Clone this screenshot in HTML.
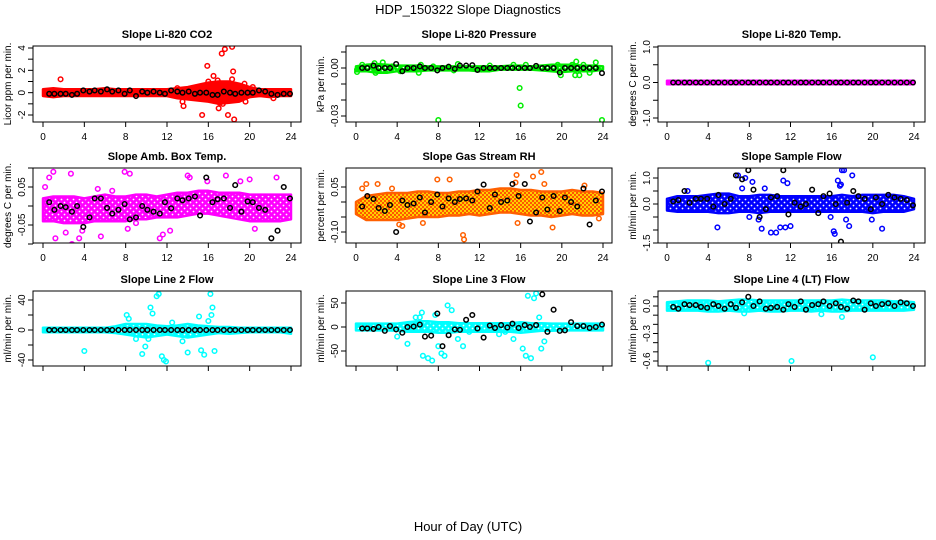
<!DOCTYPE html>
<html><head><meta charset="utf-8"><style>
body{margin:0;background:#fff;}
svg{display:block;font-family:"Liberation Sans",sans-serif;}
</style></head><body>
<svg id="chart" width="936" height="540" viewBox="0 0 936 540">
<defs id="defs">
<pattern id="rhpat" width="4" height="4" patternUnits="userSpaceOnUse"><rect width="4" height="4" fill="#ffd000"/><circle cx="1" cy="1" r="1" fill="#ff3000"/><circle cx="3" cy="3" r="1" fill="#ff3000"/></pattern>
</defs>
<text x="468" y="14" text-anchor="middle" font-size="13">HDP_150322  Slope Diagnostics</text>
<text x="468" y="531" text-anchor="middle" font-size="13">Hour of Day (UTC)</text>
<g id="panels"></g>
</svg>
<script>
const xTicks=[0,4,8,12,16,20,24];
const bandHours=[0,1,2,3,4,5,6,7,8,9,10,11,12,13,14,15,16,17,18,19,20,21,22,23,24];
const blackHours=[0.6,1.1,1.7,2.2,2.8,3.3,3.9,4.5,5.0,5.6,6.2,6.7,7.3,7.9,8.4,9.0,9.6,10.1,10.7,11.3,11.8,12.4,13.0,13.5,14.1,14.7,15.2,15.8,16.4,16.9,17.5,18.1,18.6,19.2,19.8,20.3,20.9,21.5,22.1,22.7,23.3,23.9];

const co2Lo=[-0.3,-0.4,-0.3,-0.3,-0.3,-0.3,-0.3,-0.3,-0.3,-0.3,-0.3,-0.3,-0.3,-0.5,-0.6,-0.7,-0.8,-1.0,-0.9,-0.8,-0.4,-0.3,-0.4,-0.3,-0.3];
const co2Hi=[0.3,0.4,0.3,0.3,0.3,0.3,0.4,0.3,0.3,0.3,0.3,0.3,0.3,0.4,0.5,0.7,0.9,1.0,1.0,0.8,0.5,0.3,0.3,0.3,0.3];
const co2OutH=[1.7,13.5,13.6,15.4,15.9,16.0,16.5,17.0,17.3,17.6,17.9,18.3,18.4,18.5,18.3,16.9,19.5,19.6,20.3,15.2,13.0,22.3,17.1,17.4];
const co2OutV=[1.2,-0.8,-1.2,-2.0,2.4,1.0,1.5,-1.4,3.5,3.9,-2.0,4.1,1.9,-2.4,1.2,1.1,0.8,-0.8,0.5,0.5,0.4,-0.5,-0.9,-1.0];
const co2Black=[-0.1,-0.1,-0.1,-0.1,-0.2,-0.1,0.2,0.1,0.2,0.1,0.3,0.1,0.2,-0.1,0.2,-0.3,0.1,0.0,0.1,0.0,-0.1,0.2,0.1,0.0,0.1,-0.1,0.0,0.0,-0.2,-0.2,0.1,0.0,-0.1,0.0,0.0,0.0,0.2,0.1,-0.1,-0.2,-0.1,-0.1];

const presLo=[-0.002,-0.002,-0.003,-0.003,-0.002,-0.002,-0.002,-0.0015,-0.0015,-0.0015,-0.0015,-0.0015,-0.002,-0.002,-0.001,-0.001,-0.001,-0.001,-0.0015,-0.002,-0.0025,-0.002,-0.002,-0.002,-0.001];
const presHi=[0.001,0.002,0.0025,0.002,0.0015,0.0015,0.0015,0.001,0.001,0.001,0.001,0.001,0.001,0.001,0.001,0.0015,0.0015,0.001,0.0015,0.002,0.002,0.002,0.0015,0.0015,0.001];
const presOutH=[0.1,0.1,0.6,1.8,1.9,2.6,3.5,4.3,6.1,6.3,7.5,8.0,9.5,9.9,12.2,13.0,15.3,15.9,16.0,16.5,19.9,19.6,21.0,21.3,21.4,21.7,22.7,23.3,23.9,22.1];
const presOutV=[-0.001,-0.0025,0.002,0.003,-0.003,0.0035,0.001,-0.002,-0.003,0.002,0.001,-0.0325,-0.0015,0.0025,-0.001,0.0015,0.002,-0.0125,-0.0235,0.002,-0.0045,0.002,0.002,-0.0045,0.004,-0.0045,-0.003,0.0035,-0.0325,0.002];
const presBlack=[0,0,0.0015,0,0,0,0.0025,-0.002,0,0,0.001,0,0,-0.0015,0,0.0008,-0.0005,0.0015,0.0015,0.0018,-0.0012,0,0,0,0,0,0,0,0,0,0.0013,0,0,0,-0.0028,0,0,0,0,0,0,-0.0032];

const tempLo=[-0.05,-0.05,-0.05,-0.05,-0.05,-0.05,-0.05,-0.05,-0.05,-0.05,-0.05,-0.05,-0.05,-0.05,-0.05,-0.05,-0.05,-0.05,-0.05,-0.05,-0.05,-0.05,-0.05,-0.05,-0.05];
const tempHi=[0.05,0.05,0.05,0.05,0.05,0.05,0.05,0.05,0.05,0.05,0.05,0.05,0.05,0.05,0.05,0.05,0.05,0.05,0.05,0.05,0.05,0.05,0.05,0.05,0.05];
const tempOutH=[];
const tempOutV=[];
const tempBlack=[0,0,0,0,0,0,0,0,0,0,0,0,0,0,0,0,0,0,0,0,0,0,0,0,0,0,0,0,0,0,0,0,0,0,0,0,0,0,0,0,0,0];

const ambLo=[-0.04,-0.04,-0.045,-0.045,-0.045,-0.04,-0.04,-0.04,-0.04,-0.035,-0.035,-0.03,-0.03,-0.03,-0.025,-0.02,-0.02,-0.025,-0.03,-0.035,-0.04,-0.04,-0.04,-0.04,-0.035];
const ambHi=[0.02,0.025,0.025,0.025,0.02,0.025,0.03,0.025,0.025,0.03,0.03,0.025,0.03,0.035,0.035,0.04,0.04,0.035,0.035,0.035,0.03,0.03,0.03,0.03,0.03];
const ambOutH=[0.2,0.6,1.0,1.2,1.5,2.2,2.7,2.8,3.5,3.8,5.3,5.6,7.9,8.2,8.4,9.0,11.3,11.6,12.3,14.0,14.2,15.0,17.4,17.7,19.1,20.0,20.5,22.6,15.9,6.7];
const ambOutV=[0.05,0.075,0.09,-0.085,-0.035,-0.07,0.085,-0.1,-0.085,-0.065,0.045,-0.08,0.09,-0.06,0.085,-0.045,-0.085,-0.075,-0.065,0.08,0.075,-0.11,0.11,0.08,0.065,0.07,-0.06,0.075,0.065,0.04];
const ambBlack=[0.01,-0.01,0.0,-0.003,-0.015,0.0,-0.055,-0.03,0.02,0.02,-0.005,-0.02,-0.01,0.005,-0.035,-0.03,0.0,-0.01,-0.015,-0.02,0.01,-0.006,0.02,0.015,0.02,0.025,-0.025,0.075,0.01,0.018,0.02,-0.005,0.055,-0.015,0.012,0.01,-0.005,-0.01,-0.085,-0.065,0.05,0.02];

const rhLo=[-0.04,-0.06,-0.06,-0.06,-0.06,-0.055,-0.05,-0.05,-0.05,-0.045,-0.045,-0.04,-0.045,-0.04,-0.035,-0.035,-0.04,-0.045,-0.045,-0.05,-0.045,-0.04,-0.045,-0.045,-0.04];
const rhHi=[0.0,0.02,0.025,0.03,0.03,0.03,0.035,0.035,0.03,0.03,0.035,0.035,0.04,0.04,0.045,0.045,0.04,0.04,0.035,0.035,0.035,0.04,0.035,0.035,0.03];
const rhOutH=[0.6,1.0,3.5,4.2,4.5,6.5,7.9,9.1,10.4,10.5,15.5,15.6,15.7,17.2,18.0,18.3,19.1,22.2,23.6,2.1];
const rhOutV=[0.045,0.06,0.045,-0.075,-0.08,-0.07,0.075,0.075,-0.11,-0.125,0.065,0.09,-0.07,0.085,0.1,0.06,-0.085,0.055,-0.055,0.06];
const rhBlack=[-0.015,0.02,0.01,-0.02,-0.03,-0.01,-0.1,0.005,-0.01,-0.005,0.015,-0.035,0.0,0.025,-0.015,0.012,0.0,0.01,0.012,0.005,0.035,0.058,-0.02,0.025,0.0,0.005,0.06,0.02,0.06,-0.065,-0.035,0.015,-0.025,0.02,-0.03,0.015,0.0,-0.015,0.045,-0.075,0.005,0.035];

const flowLo=[-0.25,-0.3,-0.3,-0.3,-0.3,-0.35,-0.35,-0.3,-0.3,-0.35,-0.3,-0.3,-0.3,-0.3,-0.3,-0.3,-0.3,-0.3,-0.3,-0.3,-0.35,-0.3,-0.3,-0.3,-0.2];
const flowHi=[0.2,0.3,0.3,0.3,0.35,0.4,0.4,0.3,0.3,0.35,0.35,0.3,0.3,0.3,0.3,0.3,0.3,0.35,0.3,0.35,0.35,0.35,0.35,0.3,0.2];
const flowOutH=[2.0,4.9,6.9,7.3,7.6,8.0,8.3,8.9,9.2,9.5,10.1,10.6,11.0,11.3,11.5,11.7,12.0,15.9,16.2,16.3,16.6,16.8,17.0,17.2,17.4,17.7,18.0,19.9,20.9,16.9];
const flowOutV=[0.5,-0.9,1.1,0.6,1.0,-0.5,0.85,-0.6,-0.95,0.6,-1.1,-1.1,-0.9,0.9,-0.9,0.8,-0.85,-0.5,-1.05,-1.15,0.9,0.7,1.3,1.3,-0.6,-0.85,1.1,-0.6,-0.95,0.75];
const flowBlack=[0.1,0.15,0.5,0.05,0.2,0.2,0.2,-0.1,0.35,0.0,0.2,1.1,0.95,1.3,0.55,-0.5,-0.2,0.25,0.3,1.3,-0.4,0.05,-0.1,0.0,0.55,-0.35,0.3,0.4,0.0,-1.45,0.05,0.5,0.3,0.2,-0.2,0.25,0.0,0.35,0.25,0.2,0.15,-0.05];

const l2Lo=[-3,-3,-3,-3,-3,-3,-3,-4,-6,-8,-10,-8,-6,-8,-10,-8,-6,-4,-5,-4,-3,-3,-3,-3,-5];
const l2Hi=[3,3,3,3,3,3,3,5,8,8,8,6,5,6,8,6,5,4,4,3,3,3,3,3,3];
const l2OutH=[4.0,8.1,8.3,9.6,9.9,10.2,10.4,10.6,11.0,11.2,11.5,11.7,11.9,14.0,15.1,15.3,15.6,16.0,16.2,16.4,16.6,16.3,9.0,12.5,13.5];
const l2OutV=[-28,20,15,-32,-22,-12,30,22,45,48,-35,-40,-42,-30,18,-27,-33,12,48,30,-28,20,-12,10,-15];
const l2Black=[0,0,0,0,0,0,0,0,0,0,0,0,0,0,0,0,0,0,0,0,0,0,0,0,0,0,0,0,0,0,0,0,0,0,0,0,0,0,0,0,0,0];

const l3Lo=[-7,-7,-7,-7,-8,-10,-10,-10,-12,-12,-10,-10,-10,-10,-10,-10,-12,-10,-8,-8,-7,-7,-7,-7,-7];
const l3Hi=[7,7,7,7,7,10,12,12,10,10,8,8,8,8,8,8,10,8,8,7,7,7,7,7,7];
const l3OutH=[4.0,5.0,5.8,6.2,6.5,7.0,7.4,7.7,8.0,8.3,8.6,8.9,9.3,9.9,10.4,11.0,15.3,16.2,16.5,16.7,17.0,17.3,17.5,17.8,18.0,18.3,13.9,14.5,6.4];
const l3OutV=[-20,-35,20,20,-60,-65,-70,25,-40,-55,-60,45,35,-25,-40,-10,-25,-45,-60,65,-65,60,70,20,-45,-30,-15,-10,30];
const l3Black=[-3,-3,-4,0,-8,2,-5,-12,0,1,5,-20,-18,28,-40,-17,-5,-6,15,25,-3,-22,3,-2,4,-1,7,-2,4,0,4,68,-10,36,-8,-7,10,2,2,-2,0,5];

const ltLo=[-0.05,-0.05,-0.05,-0.05,-0.06,-0.06,-0.05,-0.06,-0.06,-0.05,-0.06,-0.06,-0.05,-0.05,-0.06,-0.05,-0.06,-0.06,-0.05,-0.05,-0.05,-0.05,-0.05,-0.05,-0.04];
const ltHi=[0.04,0.05,0.06,0.06,0.06,0.05,0.06,0.07,0.07,0.06,0.06,0.06,0.06,0.06,0.06,0.06,0.06,0.07,0.06,0.06,0.06,0.06,0.05,0.05,0.04];
const ltOutH=[4.0,12.1,20.0,17.0,7.5,15.0];
const ltOutV=[-0.62,-0.6,-0.56,-0.12,-0.08,-0.09];
const ltBlack=[-0.01,-0.03,0.02,0.01,0.01,-0.01,-0.02,0.02,0.0,-0.03,0.02,-0.02,0.04,0.1,0.0,0.05,-0.03,-0.02,-0.01,-0.04,0.02,-0.01,0.05,-0.04,0.01,0.02,0.05,0.0,0.03,-0.01,-0.03,0.06,0.05,-0.04,0.03,0.0,0.02,0.03,0.0,0.04,0.03,0.0];

const NS='http://www.w3.org/2000/svg';
const cols=[{bx0:33,bx1:301,h0:43,h24:291},{bx0:346,bx1:612,h0:356,h24:603},{bx0:658,bx1:925,h0:667,h24:914}];
const rows=[{by0:46,by1:122,lab:true},{by0:168,by1:243,lab:true},{by0:291,by1:366,lab:false}];
const panels=[
 {name:'co2',title:'Slope Li-820 CO2',ylab:'Licor ppm per min.',c:0,r:0,ya:[4,48],yb:[-2,115],ticks:[4,3,2,1,0,-1,-2],labs:['4','2','0','-2'],labv:[4,2,0,-2],color:'#ff0000',tex:false,lo:co2Lo,hi:co2Hi,oh:co2OutH,ov:co2OutV,bk:co2Black},
 {name:'pressure',title:'Slope Li-820 Pressure',ylab:'kPa per min.',c:1,r:0,ya:[0,68],yb:[-0.03,116],ticks:[0.01,0,-0.01,-0.02,-0.03],labs:['0.00','-0.03'],labv:[0,-0.03],color:'#00ee00',tex:true,lo:presLo,hi:presHi,oh:presOutH,ov:presOutV,bk:presBlack},
 {name:'temp',title:'Slope Li-820 Temp.',ylab:'degrees C per min.',c:2,r:0,ya:[1,47],yb:[-1,118],ticks:[1,0.5,0,-0.5,-1],labs:['1.0','0.0','-1.0'],labv:[1,0,-1],color:'#ff00ff',tex:false,lo:tempLo,hi:tempHi,oh:tempOutH,ov:tempOutV,bk:tempBlack},
 {name:'amb-box-temp',title:'Slope Amb. Box Temp.',ylab:'degrees C per min.',c:0,r:1,ya:[0.05,187],yb:[-0.05,225],ticks:[0.1,0.05,0,-0.05,-0.1],labs:['0.05','-0.05'],labv:[0.05,-0.05],color:'#ff00ff',tex:true,lo:ambLo,hi:ambHi,oh:ambOutH,ov:ambOutV,bk:ambBlack},
 {name:'gas-stream-rh',title:'Slope Gas Stream RH',ylab:'percent per min.',c:1,r:1,ya:[0.05,187],yb:[-0.10,232],ticks:[0.05,0,-0.05,-0.1],labs:['0.05','-0.10'],labv:[0.05,-0.1],color:'#ff6000',fill:'url(#rhpat)',tex:false,lo:rhLo,hi:rhHi,oh:rhOutH,ov:rhOutV,bk:rhBlack},
 {name:'sample-flow',title:'Slope Sample Flow',ylab:'ml/min per min.',c:2,r:1,ya:[1,178],yb:[0,204],ticks:[1,0.5,0,-0.5,-1,-1.5],labs:['1.0','0.0','-1.5'],labv:[1,0,-1.5],color:'#0000ff',tex:true,lo:flowLo,hi:flowHi,oh:flowOutH,ov:flowOutV,bk:flowBlack},
 {name:'line2-flow',title:'Slope Line 2 Flow',ylab:'ml/min per min.',c:0,r:2,ya:[40,300],yb:[-40,360],ticks:[40,20,0,-20,-40],labs:['40','0','-40'],labv:[40,0,-40],color:'#00ffff',tex:true,lo:l2Lo,hi:l2Hi,oh:l2OutH,ov:l2OutV,bk:l2Black},
 {name:'line3-flow',title:'Slope Line 3 Flow',ylab:'ml/min per min.',c:1,r:2,ya:[50,303],yb:[-50,351],ticks:[50,0,-50],labs:['50','0','-50'],labv:[50,0,-50],color:'#00ffff',tex:true,lo:l3Lo,hi:l3Hi,oh:l3OutH,ov:l3OutV,bk:l3Black},
 {name:'line4-flow',title:'Slope Line 4 (LT) Flow',ylab:'ml/min per min.',c:2,r:2,ya:[0,306],yb:[-0.6,361],ticks:[0.1,0,-0.1,-0.2,-0.3,-0.4,-0.5,-0.6],labs:['0.0','-0.3','-0.6'],labv:[0,-0.3,-0.6],color:'#00ffff',tex:true,lo:ltLo,hi:ltHi,oh:ltOutH,ov:ltOutV,bk:ltBlack}
];
function mk(tag,attrs,parent){const e=document.createElementNS(NS,tag);for(const k in attrs)e.setAttribute(k,attrs[k]);parent.appendChild(e);return e;}
const defs=document.getElementById('defs');
const root=document.getElementById('panels');
panels.forEach((p,pi)=>{
 const C=cols[p.c],R=rows[p.r];
 const xs=h=>C.h0+(h/24)*(C.h24-C.h0);
 const ys=v=>p.ya[1]+(v-p.ya[0])*(p.yb[1]-p.ya[1])/(p.yb[0]-p.ya[0]);
 let fill=p.fill||p.color;
 if(p.tex){
  const pat=mk('pattern',{id:'tex'+pi,width:6,height:6,patternUnits:'userSpaceOnUse'},defs);
  mk('rect',{width:6,height:6,fill:p.color},pat);
  mk('circle',{cx:1.5,cy:1.5,r:0.9,fill:'#fff'},pat);
  mk('circle',{cx:4.5,cy:4.5,r:0.9,fill:'#fff'},pat);
  fill='url(#tex'+pi+')';
 }
 const g=mk('g',{},root);
 
 
 const cp=mk('clipPath',{id:'cp'+pi},g);
 mk('rect',{x:C.bx0,y:R.by0,width:C.bx1-C.bx0,height:R.by1-R.by0},cp);
 const t=mk('text',{x:(C.bx0+C.bx1)/2,y:R.by0-8,'text-anchor':'middle','font-size':'11','font-weight':'bold'},g);
 t.textContent=p.title;
 
 
 const yl=mk('text',{x:0,y:0,'text-anchor':'middle','font-size':'10',transform:`translate(${C.bx0-22},${(R.by0+R.by1)/2}) rotate(-90)`},g);
 yl.textContent=p.ylab;
 
 
 const plot=mk('g',{'clip-path':`url(#cp${pi})`},g);
 let d='';
 bandHours.forEach((h,i)=>{d+=(i?'L':'M')+xs(h).toFixed(1)+','+ys(p.hi[i]).toFixed(1);});
 for(let i=bandHours.length-1;i>=0;i--)d+='L'+xs(bandHours[i]).toFixed(1)+','+ys(p.lo[i]).toFixed(1);
 const band=mk('path',{d:d+'Z',fill:fill,stroke:p.color,'stroke-width':'2.5','stroke-linejoin':'round'},plot);
 
 
 p.oh.forEach((h,i)=>{
  const c=mk('circle',{cx:xs(h),cy:ys(p.ov[i]),r:2.3,fill:'none',stroke:p.color,'stroke-width':1.5},plot);
  
  
 });
 blackHours.forEach((h,i)=>{
  const c=mk('circle',{cx:xs(h),cy:ys(p.bk[i]),r:2.3,fill:'none',stroke:'#000','stroke-width':1.5},plot);
  
  
 });
 mk('rect',{x:C.bx0,y:R.by0,width:C.bx1-C.bx0,height:R.by1-R.by0,fill:'none',stroke:'#000','stroke-width':1},g);
 const yv=p.ticks.map(ys).filter(y=>y>=R.by0-2&&y<=R.by1+2);
 mk('line',{x1:C.bx0,x2:C.bx0,y1:Math.min(...yv),y2:Math.max(...yv),stroke:'#000'},g);
 p.ticks.forEach(v=>{const y=ys(v);if(y<R.by0-2||y>R.by1+2)return;mk('line',{x1:C.bx0-5,x2:C.bx0,y1:y,y2:y,stroke:'#000'},g);});
 p.labv.forEach((v,i)=>{
  const tl=mk('text',{x:0,y:0,'text-anchor':'middle','font-size':'10',transform:`translate(${C.bx0-8},${ys(v)}) rotate(-90)`},g);
  tl.textContent=p.labs[i];
  
  
 });
 mk('line',{x1:xs(0),x2:xs(24),y1:R.by1,y2:R.by1,stroke:'#000'},g);
 xTicks.forEach(h=>{
  mk('line',{x1:xs(h),x2:xs(h),y1:R.by1,y2:R.by1+5,stroke:'#000'},g);
  if(R.lab){
   const xl=mk('text',{x:xs(h),y:R.by1+18,'text-anchor':'middle','font-size':'10'},g);
   xl.textContent=String(h);
   
   
  }
 });
});
</script>
</body></html>
